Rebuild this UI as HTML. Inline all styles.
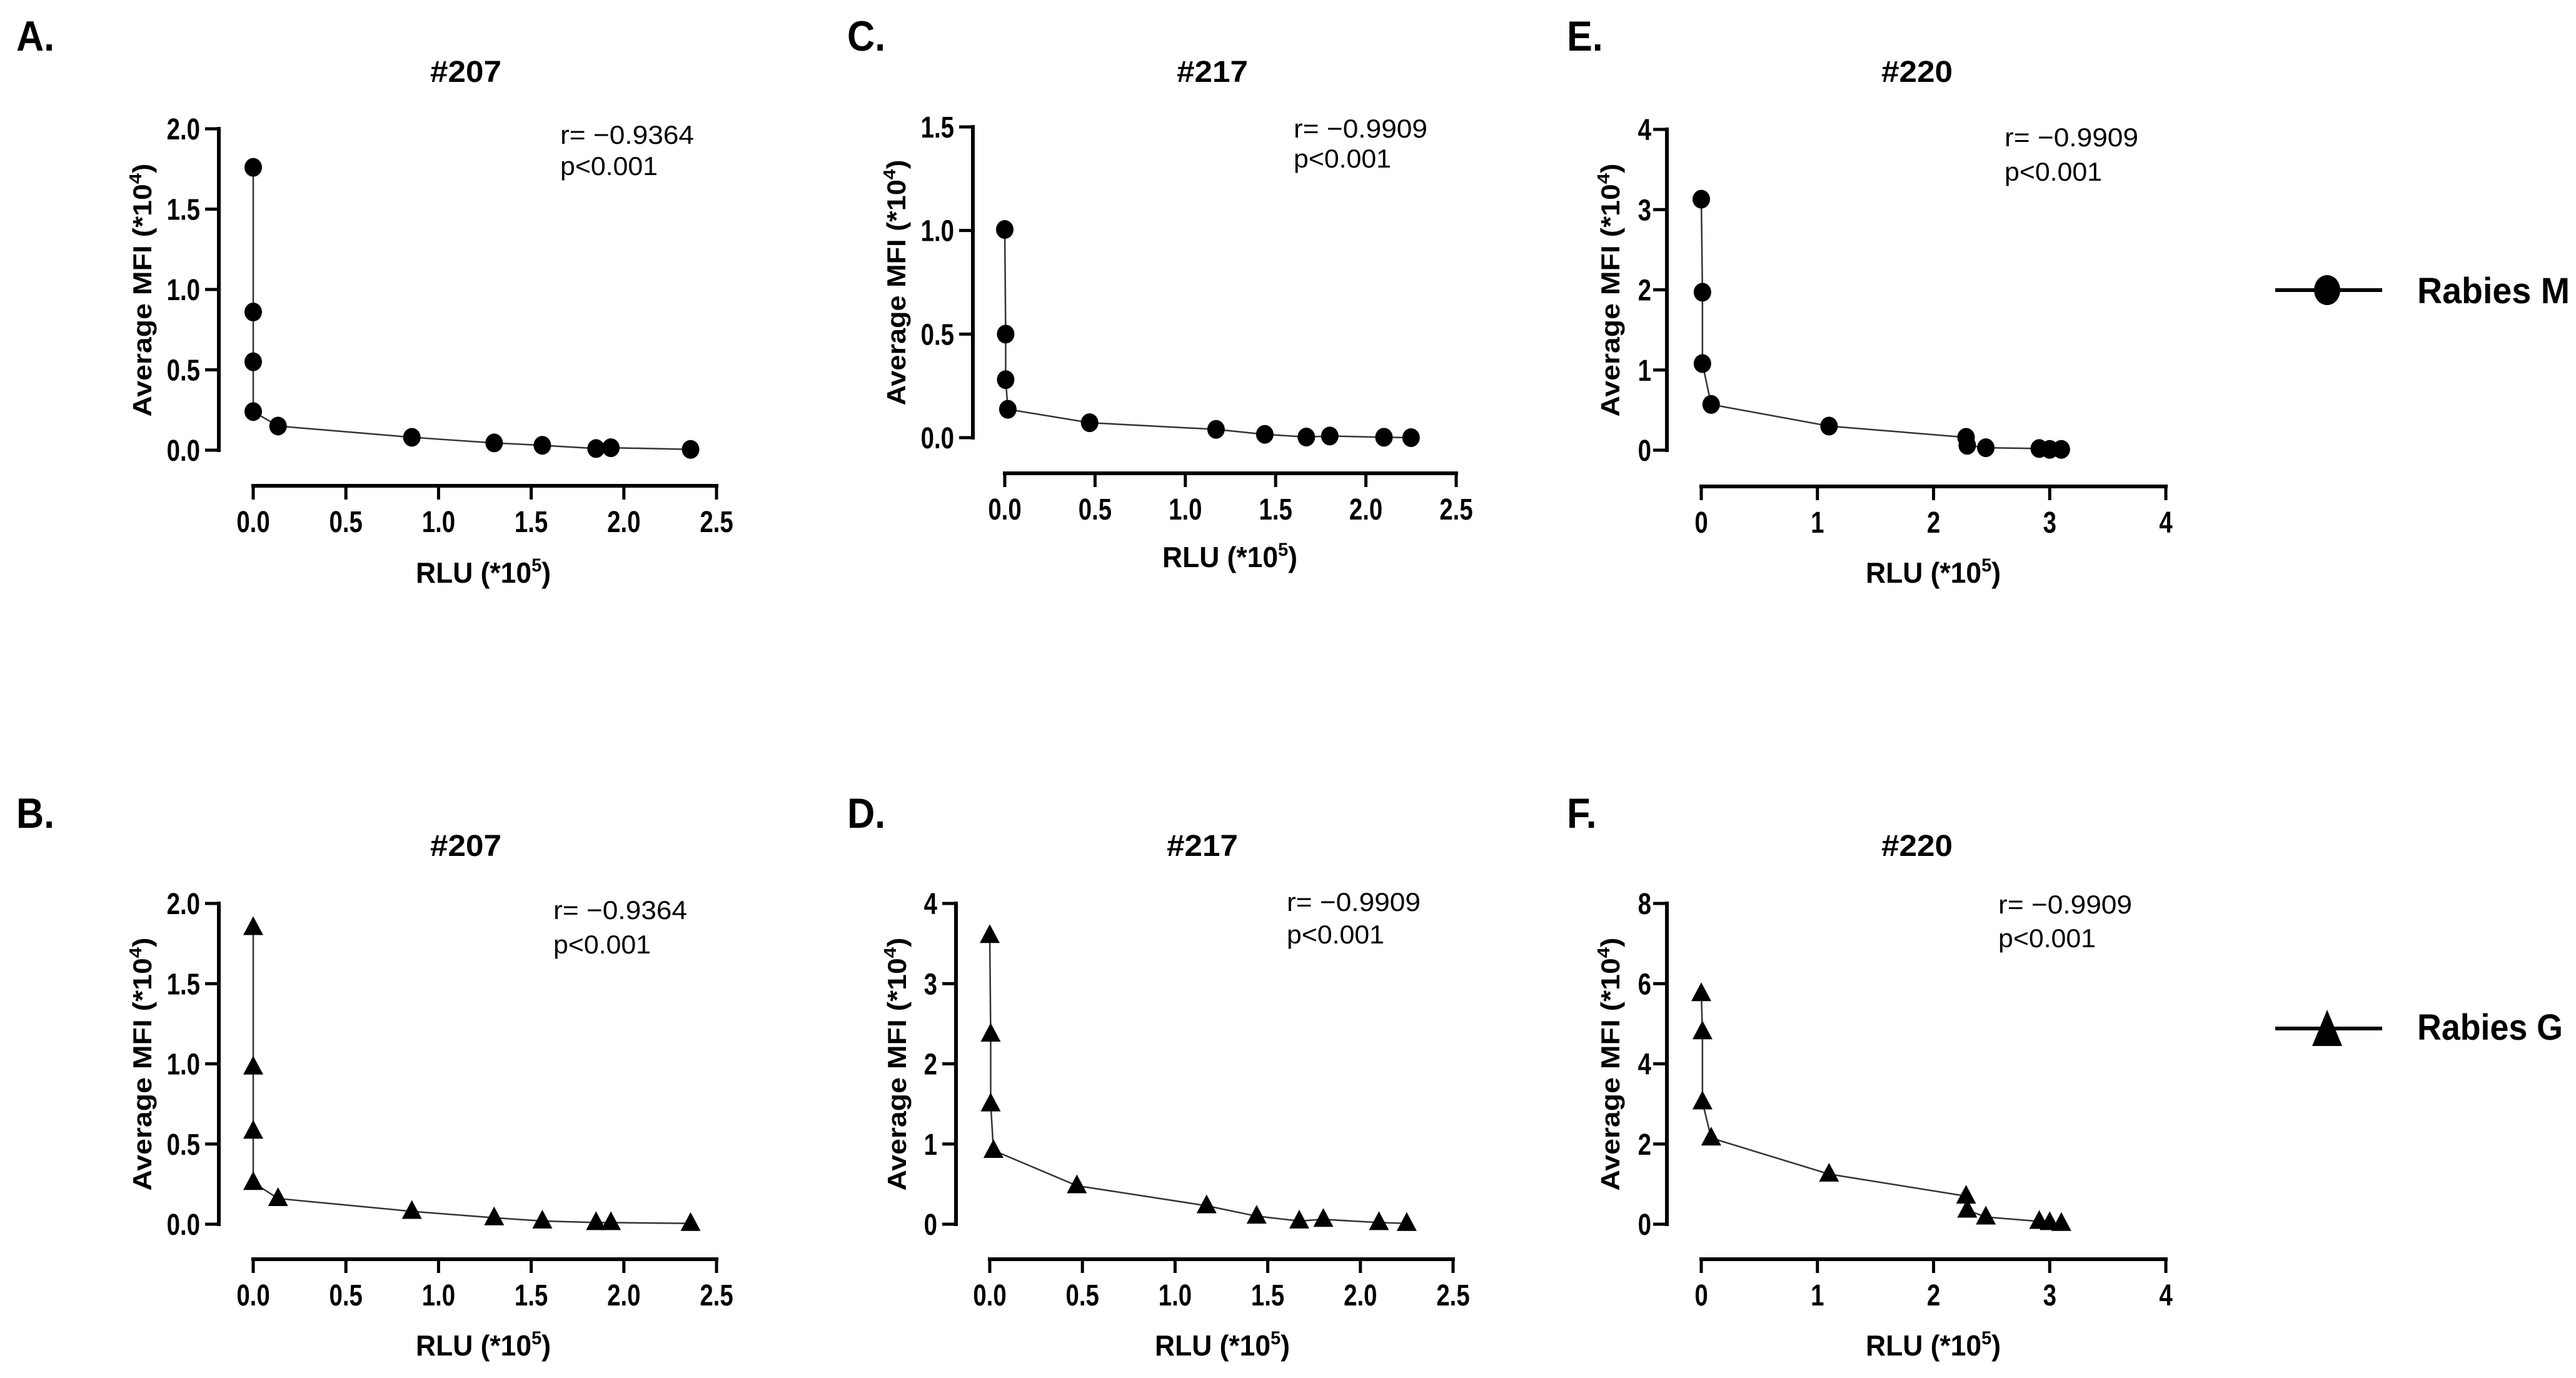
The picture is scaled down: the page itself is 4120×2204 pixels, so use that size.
<!DOCTYPE html>
<html><head><meta charset="utf-8">
<style>html,body{margin:0;padding:0;background:#fff}svg{display:block}</style>
</head><body>
<svg id="fig" xmlns="http://www.w3.org/2000/svg" width="4120" height="2204" viewBox="0 0 4120 2204"></svg>
<script>
// ---- data ----
const aX=[0.0,0.0,0.0,0.0,0.134,0.856,1.30,1.56,1.85,1.93,2.36];
const aY=[1.76,0.86,0.55,0.24,0.15,0.08,0.045,0.03,0.01,0.015,0.005];
const bX=[0.0,0.0,0.0,0.0,0.134,0.856,1.30,1.56,1.85,1.93,2.36];
const bY=[1.85,0.98,0.58,0.26,0.16,0.08,0.04,0.02,0.01,0.01,0.005];
const cX=[0.0,0.005,0.005,0.017,0.47,1.17,1.44,1.67,1.80,2.10,2.25];
const cY=[1.005,0.50,0.28,0.137,0.072,0.04,0.016,0.003,0.008,0.002,0.0];
const dX=[0.0,0.005,0.005,0.02,0.47,1.17,1.44,1.67,1.80,2.10,2.25];
const dY=[3.60,2.37,1.50,0.92,0.48,0.23,0.10,0.04,0.06,0.02,0.01];
const eX=[0.0,0.01,0.01,0.085,1.10,2.28,2.29,2.45,2.91,3.00,3.10];
const eY=[3.13,1.97,1.08,0.57,0.30,0.16,0.06,0.03,0.02,0.01,0.01];
const fX=[0.0,0.01,0.01,0.085,1.10,2.28,2.29,2.45,2.91,3.00,3.10];
const fY=[5.75,4.80,3.05,2.15,1.25,0.70,0.35,0.18,0.07,0.04,0.02];
const ticksY_A=[0,0.5,1.0,1.5,2.0];
const ticksY_C=[0,0.5,1.0,1.5];
const ticksY_E=[0,1,2,3,4];
const ticksY_D=[0,1,2,3,4];
const ticksY_F=[0,2,4,6,8];
const ticksX_25=[0,0.5,1.0,1.5,2.0,2.5];
const ticksX_4=[0,1,2,3,4];
const titles=["#207","#207","#217","#217","#220","#220"];
const stats=[["r= \u22120.9364","p<0.001"],["r= \u22120.9364","p<0.001"],["r= \u22120.9909","p<0.001"],["r= \u22120.9909","p<0.001"],["r= \u22120.9909","p<0.001"],["r= \u22120.9909","p<0.001"]];

const NS="http://www.w3.org/2000/svg";
const svg=document.getElementById('fig');
function mk(tag,attrs,parent){const e=document.createElementNS(NS,tag);for(const k in attrs)e.setAttribute(k,attrs[k]);(parent||svg).appendChild(e);return e;}
function txt(parent,x,y,s,size,weight,anchor,len,sx){
  const t=mk('text',{x:0,y:0,'font-family':'Liberation Sans, sans-serif','font-size':size,'font-weight':weight,'text-anchor':anchor,fill:'#000',transform:`translate(${x},${y}) scale(${sx||1},1)`},parent);
  if(len){t.setAttribute('textLength',len);t.setAttribute('lengthAdjust','spacingAndGlyphs');}
  t.textContent=s;return t;
}

const panels=[
 {id:'a',label:'A.',lx:26,ly:81,X:aX,Y:aY,tri:false,axX:350,yTop:206,yBot:720,xAxY:777,x0:405,x1:1146,ymax:2,xmax:2.5,yt:ticksY_A,xt:ticksX_25,dec:1,tcx:745,tby:131,sx:896,s1:230,s2:280,ylx:227,ylc:464,yll:405,xlc:773,xlb:932,ygap:30,ti:0},
 {id:'b',label:'B.',lx:26,ly:1324,X:bX,Y:bY,tri:true,axX:350,yTop:1445,yBot:1958,xAxY:2014,x0:405,x1:1146,ymax:2,xmax:2.5,yt:ticksY_A,xt:ticksX_25,dec:1,tcx:745,tby:1369,sx:885,s1:1470,s2:1525,ylx:227,ylc:1702,yll:405,xlc:773,xlb:2168,ygap:30,ti:1},
 {id:'c',label:'C.',lx:1355,ly:81,X:cX,Y:cY,tri:false,axX:1556,yTop:203,yBot:700,xAxY:757,x0:1607,x1:2329,ymax:1.5,xmax:2.5,yt:ticksY_C,xt:ticksX_25,dec:1,tcx:1939,tby:131,sx:2069,s1:220,s2:268,ylx:1433,ylc:452,yll:393,xlc:1967,xlb:907,ygap:30,ti:2},
 {id:'d',label:'D.',lx:1355,ly:1324,X:dX,Y:dY,tri:true,axX:1529,yTop:1445,yBot:1958,xAxY:2014,x0:1583,x1:2324,ymax:4,xmax:2.5,yt:ticksY_D,xt:ticksX_25,dec:0,tcx:1923,tby:1369,sx:2058,s1:1457,s2:1509,ylx:1434,ylc:1702,yll:405,xlc:1955,xlb:2168,ygap:30,ti:3},
 {id:'e',label:'E.',lx:2506,ly:81,X:eX,Y:eY,tri:false,axX:2666,yTop:207,yBot:720,xAxY:778,x0:2721,x1:3464,ymax:4,xmax:4,yt:ticksY_E,xt:ticksX_4,dec:0,tcx:3066,tby:131,sx:3206,s1:234,s2:289,ylx:2575,ylc:464,yll:405,xlc:3092,xlb:932,ygap:25,ti:4},
 {id:'f',label:'F.',lx:2506,ly:1324,X:fX,Y:fY,tri:true,axX:2666,yTop:1445,yBot:1958,xAxY:2014,x0:2721,x1:3464,ymax:8,xmax:4,yt:ticksY_F,xt:ticksX_4,dec:0,tcx:3066,tby:1369,sx:3196,s1:1461,s2:1515,ylx:2575,ylc:1702,yll:405,xlc:3092,xlb:2168,ygap:25,ti:5}
];

panels.forEach(p=>{
  const g=mk('g',{});
  
  
  const xs=v=>p.x0+(v/p.xmax)*(p.x1-p.x0);
  const ys=v=>p.yBot-(v/p.ymax)*(p.yBot-p.yTop);
  const lab=txt(g,p.lx,p.ly,p.label,68,'bold','start',null,0.9);
  
  
  const tt=txt(g,p.tcx,p.tby,titles[p.ti],48,'bold','middle',114,1);
  
  
  const ya=mk('line',{x1:p.axX,y1:p.yTop-3,x2:p.axX,y2:p.yBot+3,stroke:'#000','stroke-width':6},g);
  
  
  p.yt.forEach(v=>{
    mk('line',{x1:p.axX-22,y1:ys(v),x2:p.axX,y2:ys(v),stroke:'#000','stroke-width':5},g);
    const t=txt(g,p.axX-p.ygap,ys(v)+17,v.toFixed(p.dec),48,'bold','end',null,0.8);
    
    
  });
  const xa=mk('line',{x1:p.x0-3,y1:p.xAxY,x2:p.x1+3,y2:p.xAxY,stroke:'#000','stroke-width':6},g);
  
  
  p.xt.forEach(v=>{
    mk('line',{x1:xs(v),y1:p.xAxY,x2:xs(v),y2:p.xAxY+22,stroke:'#000','stroke-width':5},g);
    const t=txt(g,xs(v),p.xAxY+74,(p.xmax===4?v.toFixed(0):v.toFixed(1)),48,'bold','middle',null,0.8);
    
    
  });
  const yl=mk('text',{x:0,y:0,'font-family':'Liberation Sans, sans-serif','font-size':42,'font-weight':'bold','text-anchor':'middle',transform:`translate(${p.ylx+15},${p.ylc}) rotate(-90)`,textLength:p.yll,lengthAdjust:'spacingAndGlyphs'},g);
  yl.innerHTML='Average MFI (*10<tspan dy="-16" font-size="28">4</tspan><tspan dy="16">)</tspan>';
  
  
  const xl=mk('text',{x:0,y:0,'font-family':'Liberation Sans, sans-serif','font-size':46,'font-weight':'bold','text-anchor':'middle',transform:`translate(${p.xlc},${p.xlb})`,textLength:216,lengthAdjust:'spacingAndGlyphs'},g);
  xl.innerHTML='RLU (*10<tspan dy="-18" font-size="30">5</tspan><tspan dy="18">)</tspan>';
  
  
  const s1=txt(g,p.sx,p.s1,stats[p.ti][0],42,'normal','start',214,1);
  
  
  const s2=txt(g,p.sx,p.s2,stats[p.ti][1],42,'normal','start',156,1);
  
  
  const pts=p.X.map((x,i)=>xs(x)+','+ys(p.Y[i])).join(' ');
  const pl=mk('polyline',{points:pts,fill:'none',stroke:'#333','stroke-width':2.5},g);
  
  
  p.X.forEach((x,i)=>{
    const cx=xs(x),cy=ys(p.Y[i]);
    let m;
    if(p.tri){m=mk('polygon',{points:`${cx},${cy-18} ${cx-16},${cy+12} ${cx+16},${cy+12}`,fill:'#000'},g);}
    else{m=mk('ellipse',{cx:cx,cy:cy,rx:14,ry:15,fill:'#000'},g);}
    
    
  });
});

const lg1=mk('g',{});


mk('line',{x1:3639,y1:464,x2:3810,y2:464,stroke:'#000','stroke-width':6},lg1);
mk('ellipse',{cx:3722,cy:464,rx:21,ry:24,fill:'#000'},lg1);
txt(lg1,3866,485,'Rabies M',58,'bold','start',244,1);
const lg2=mk('g',{});


mk('line',{x1:3639,y1:1645,x2:3810,y2:1645,stroke:'#000','stroke-width':6},lg2);
mk('polygon',{points:'3722,1615 3698,1673 3746,1673',fill:'#000'},lg2);
txt(lg2,3866,1663,'Rabies G',58,'bold','start',233,1);
</script>
</body></html>
